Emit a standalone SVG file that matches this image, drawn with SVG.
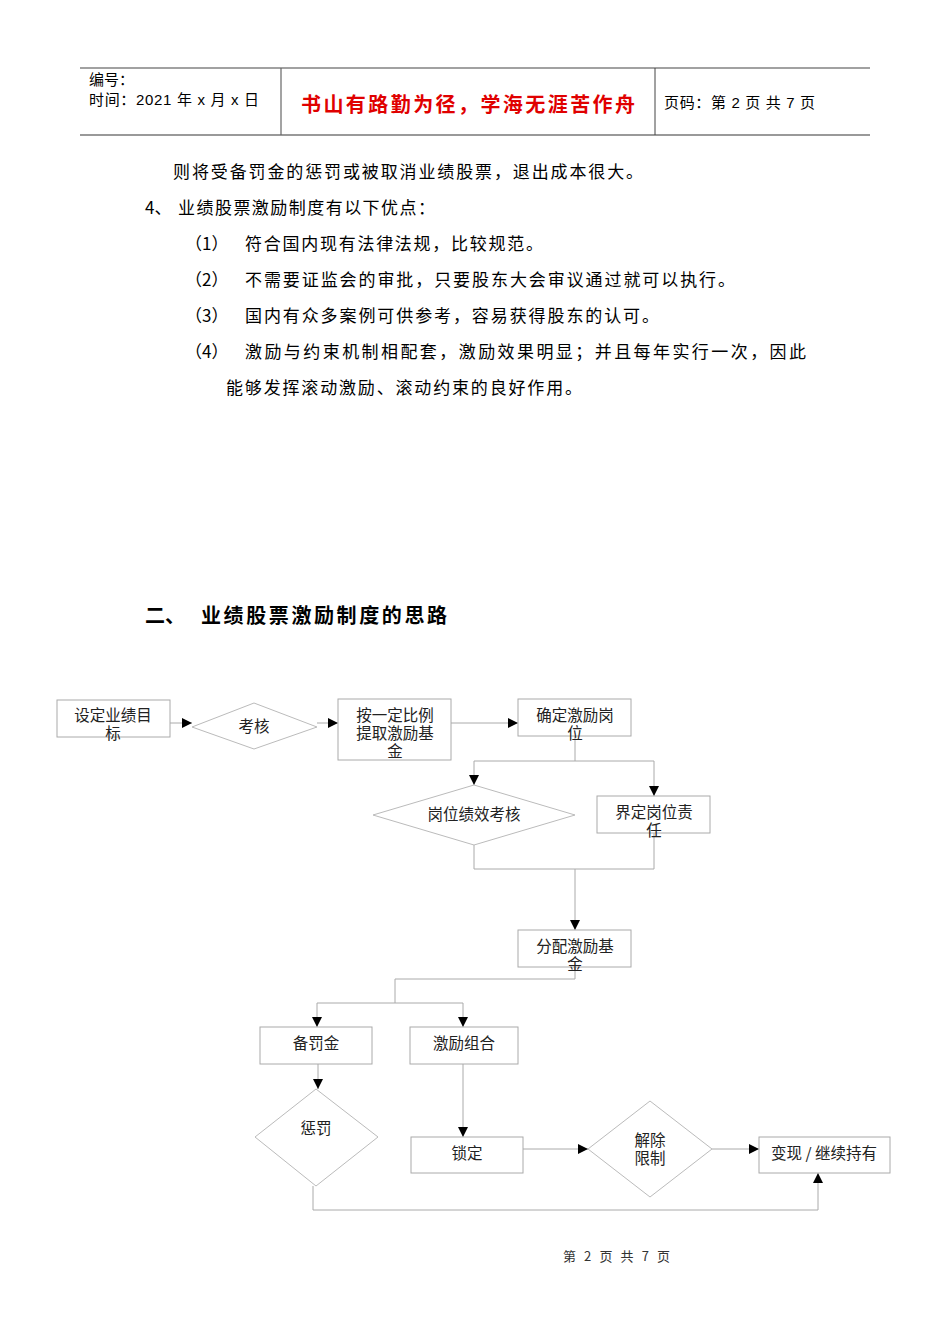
<svg xmlns="http://www.w3.org/2000/svg" width="950" height="1344" viewBox="0 0 950 1344">
<style>
.hd{font-family:"Liberation Sans","Noto Sans CJK SC",sans-serif;font-size:15px;fill:#000}
.red{font-family:"Noto Sans CJK SC",sans-serif;font-size:20px;fill:#e00000;font-weight:bold}
.bd{font-family:"Noto Sans CJK SC",sans-serif;font-size:17px;fill:#000}
.h2{font-family:"Noto Sans CJK SC",sans-serif;font-size:20px;fill:#000;font-weight:bold}
.nt{font-family:"Noto Sans CJK SC",sans-serif;font-size:15.5px;fill:#222}
.ft{font-family:"Noto Sans CJK SC",sans-serif;font-size:13px;fill:#333}
.box{fill:#fff;stroke:#aaa;stroke-width:1}
.dia{fill:#fff;stroke:#bbb;stroke-width:1}
.ln{fill:none;stroke:#aaa;stroke-width:1}
</style>
<defs>
<marker id="arr" viewBox="0 0 10 10" refX="10" refY="5" markerWidth="10" markerHeight="10" markerUnits="userSpaceOnUse" orient="auto"><path d="M0,0 L10,5 L0,10 z" fill="#000"/></marker>
</defs>
<rect width="950" height="1344" fill="#fff"/>
<g id="header">
<line x1="80" y1="68" x2="870" y2="68" stroke="#444" stroke-width="1.2"/>
<line x1="80" y1="135" x2="870" y2="135" stroke="#777" stroke-width="1.5"/>
<line x1="281" y1="68" x2="281" y2="135" stroke="#666" stroke-width="1.2"/>
<line x1="655" y1="68" x2="655" y2="135" stroke="#444" stroke-width="1"/>
<text class="hd" x="89" y="85">编号：</text>
<text class="hd" x="89" y="105" textLength="170" lengthAdjust="spacing">时间：2021 年 x 月 x 日</text>
<text class="red" x="468" y="112" text-anchor="middle" textLength="334" lengthAdjust="spacing">书山有路勤为径，学海无涯苦作舟</text>
<text class="hd" x="664" y="108" textLength="151" lengthAdjust="spacing">页码：第 2 页  共 7 页</text>
</g>
<g id="body">
<text class="bd" x="173" y="178" textLength="470" lengthAdjust="spacing">则将受备罚金的惩罚或被取消业绩股票，退出成本很大。</text>
<text class="bd" x="145" y="214">4、</text>
<text class="bd" x="178" y="214" textLength="257" lengthAdjust="spacing">业绩股票激励制度有以下优点：</text>
<text class="bd" x="185" y="250">（1）</text>
<text class="bd" x="245" y="250" textLength="298" lengthAdjust="spacing">符合国内现有法律法规，比较规范。</text>
<text class="bd" x="185" y="286">（2）</text>
<text class="bd" x="245" y="286" textLength="490" lengthAdjust="spacing">不需要证监会的审批，只要股东大会审议通过就可以执行。</text>
<text class="bd" x="185" y="322">（3）</text>
<text class="bd" x="245" y="322" textLength="414" lengthAdjust="spacing">国内有众多案例可供参考，容易获得股东的认可。</text>
<text class="bd" x="185" y="358">（4）</text>
<text class="bd" x="245" y="358" textLength="561" lengthAdjust="spacing">激励与约束机制相配套，激励效果明显；并且每年实行一次，因此</text>
<text class="bd" x="226" y="394" textLength="356" lengthAdjust="spacing">能够发挥滚动激励、滚动约束的良好作用。</text>
<text class="h2" x="145" y="623">二、</text>
<text class="h2" x="201" y="623" textLength="246" lengthAdjust="spacing">业绩股票激励制度的思路</text>
</g>
<g id="connectors">
<line class="ln" x1="170" y1="723" x2="192" y2="723" marker-end="url(#arr)"/>
<line class="ln" x1="317" y1="723" x2="338" y2="723" marker-end="url(#arr)"/>
<line class="ln" x1="451" y1="723" x2="518" y2="723" marker-end="url(#arr)"/>
<polyline class="ln" points="575,736 575,761"/>
<polyline class="ln" points="474,761 654,761"/>
<line class="ln" x1="474" y1="761" x2="474" y2="785" marker-end="url(#arr)"/>
<line class="ln" x1="654" y1="761" x2="654" y2="796" marker-end="url(#arr)"/>
<polyline class="ln" points="474,845 474,869 654,869 654,833"/>
<line class="ln" x1="575" y1="869" x2="575" y2="930" marker-end="url(#arr)"/>
<polyline class="ln" points="575,967 575,979 395,979 395,1003"/>
<polyline class="ln" points="317,1003 463,1003"/>
<line class="ln" x1="317" y1="1003" x2="317" y2="1027" marker-end="url(#arr)"/>
<line class="ln" x1="463" y1="1003" x2="463" y2="1027" marker-end="url(#arr)"/>
<line class="ln" x1="318" y1="1064" x2="318" y2="1089" marker-end="url(#arr)"/>
<line class="ln" x1="463" y1="1064" x2="463" y2="1137" marker-end="url(#arr)"/>
<line class="ln" x1="523" y1="1149" x2="588" y2="1149" marker-end="url(#arr)"/>
<line class="ln" x1="712" y1="1149" x2="759" y2="1149" marker-end="url(#arr)"/>
<polyline class="ln" points="313,1186 313,1210 818,1210 818,1173" marker-end="url(#arr)"/>
</g>
<g id="n1"><rect class="box" x="57" y="700" width="113" height="37"/><text class="nt" x="113" y="721" text-anchor="middle">设定业绩目</text><text class="nt" x="113" y="739" text-anchor="middle">标</text></g>
<g id="n2"><polygon class="dia" points="192,727 254,703 317,727 254,749"/><text class="nt" x="254" y="732" text-anchor="middle">考核</text></g>
<g id="n3"><rect class="box" x="338" y="699" width="113" height="61"/><text class="nt" x="395" y="721" text-anchor="middle">按一定比例</text><text class="nt" x="395" y="739" text-anchor="middle">提取激励基</text><text class="nt" x="395" y="757" text-anchor="middle">金</text></g>
<g id="n4"><rect class="box" x="518" y="699" width="113" height="37"/><text class="nt" x="575" y="721" text-anchor="middle">确定激励岗</text><text class="nt" x="575" y="739" text-anchor="middle">位</text></g>
<g id="n5"><polygon class="dia" points="373,815 474,785 575,815 474,845"/><text class="nt" x="474" y="820" text-anchor="middle">岗位绩效考核</text></g>
<g id="n6"><rect class="box" x="597" y="796" width="113" height="37"/><text class="nt" x="654" y="818" text-anchor="middle">界定岗位责</text><text class="nt" x="654" y="836" text-anchor="middle">任</text></g>
<g id="n7"><rect class="box" x="518" y="930" width="113" height="37"/><text class="nt" x="575" y="952" text-anchor="middle">分配激励基</text><text class="nt" x="575" y="970" text-anchor="middle">金</text></g>
<g id="n8"><rect class="box" x="260" y="1027" width="112" height="37"/><text class="nt" x="316" y="1049" text-anchor="middle">备罚金</text></g>
<g id="n9"><rect class="box" x="410" y="1027" width="108" height="37"/><text class="nt" x="464" y="1049" text-anchor="middle">激励组合</text></g>
<g id="n10"><polygon class="dia" points="255,1137 316,1089 378,1137 316,1186"/><text class="nt" x="316" y="1134" text-anchor="middle">惩罚</text></g>
<g id="n11"><rect class="box" x="411" y="1137" width="112" height="36"/><text class="nt" x="467" y="1159" text-anchor="middle">锁定</text></g>
<g id="n12"><polygon class="dia" points="588,1149 650,1101 712,1149 650,1197"/><text class="nt" x="650" y="1146" text-anchor="middle">解除</text><text class="nt" x="650" y="1164" text-anchor="middle">限制</text></g>
<g id="n13"><rect class="box" x="759" y="1137" width="131" height="36"/><text class="nt" x="824" y="1159" text-anchor="middle" textLength="106" lengthAdjust="spacing">变现 / 继续持有</text></g>
<g id="footer"><text class="ft" x="563" y="1261" textLength="107" lengthAdjust="spacing">第 2 页 共 7 页</text></g>
</svg>
